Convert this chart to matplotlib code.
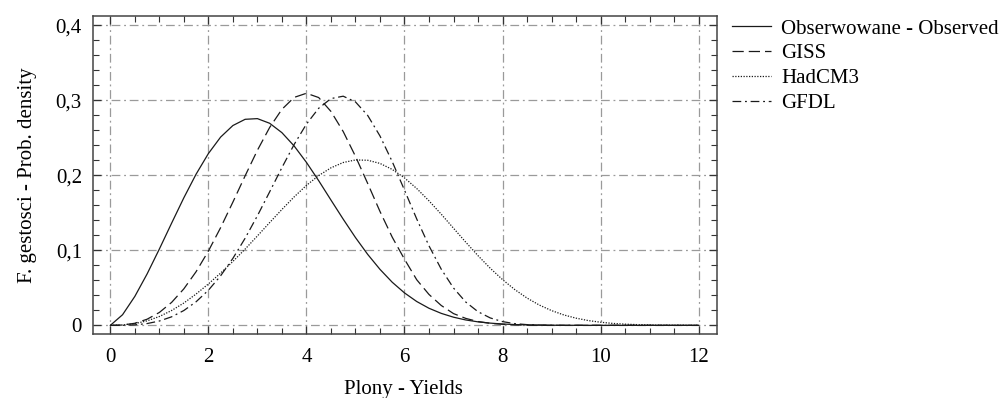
import matplotlib
matplotlib.use("Agg")
import matplotlib.pyplot as plt
from matplotlib.ticker import MultipleLocator, FuncFormatter

# Wartosci (krok 0,25)
plony = [0, 0.25, 0.5, 0.75, 1, 1.25, 1.5, 1.75, 2, 2.25, 2.5, 2.75, 3, 3.25, 3.5, 3.75,
         4, 4.25, 4.5, 4.75, 5, 5.25, 5.5, 5.75, 6, 6.25, 6.5, 6.75, 7, 7.25, 7.5, 7.75,
         8, 8.25, 8.5, 8.75, 9, 9.25, 9.5, 9.75, 10, 10.25, 10.5, 10.75, 11, 11.25, 11.5,
         11.75, 12]

obserwowane = [0, 0.0142, 0.0386, 0.0685, 0.1017, 0.1362, 0.1701, 0.2016, 0.2290, 0.2510,
               0.2664, 0.2747, 0.2756, 0.2694, 0.2569, 0.2391, 0.2173, 0.1929, 0.1671, 0.1416,
               0.1171, 0.0946, 0.0747, 0.0575, 0.0433, 0.0318, 0.0228, 0.0160, 0.0109, 0.0072,
               0.0047, 0.0030, 0.0018, 0.0011, 0.0007, 0.0004, 0.0002, 0.0001, 0.0001,
               0, 0, 0, 0, 0, 0, 0, 0, 0, 0]

giss = [0, 0.0005, 0.0028, 0.0082, 0.0172, 0.0306, 0.0487, 0.0716, 0.0990, 0.1303,
        0.1643, 0.1994, 0.2334, 0.2638, 0.2880, 0.3039, 0.3094, 0.3037, 0.2852, 0.2584,
        0.2254, 0.1891, 0.1519, 0.1176, 0.0882, 0.0608, 0.0412, 0.0265, 0.0157, 0.0093,
        0.0051, 0.0027, 0.0015, 0.0007, 0.0003, 0.0001,
        0, 0, 0, 0, 0, 0, 0, 0, 0, 0, 0, 0, 0]

hadcm3 = [0, 0.0005, 0.0024, 0.0060, 0.0118, 0.0198, 0.0298, 0.0418, 0.0552, 0.0697,
          0.0852, 0.1017, 0.1192, 0.1370, 0.1545, 0.1713, 0.1866, 0.1997, 0.2100, 0.2171,
          0.2205, 0.2201, 0.2159, 0.2079, 0.1966, 0.1824, 0.1660, 0.1482, 0.1295, 0.1109,
          0.0929, 0.0761, 0.0610, 0.0477, 0.0364, 0.0271, 0.0197, 0.0139, 0.0096, 0.0064,
          0.0042, 0.0026, 0.0016, 0.0010, 0.0006, 0.0003, 0.0002, 0.0001, 0.0001]

gfdl = [0, 0.0001, 0.0007, 0.0024, 0.0058, 0.0114, 0.0198, 0.0315, 0.0468, 0.0661,
        0.0893, 0.1162, 0.1461, 0.1780, 0.2103, 0.2412, 0.2683, 0.2894, 0.3023, 0.3055,
        0.2979, 0.2798, 0.2525, 0.2183, 0.1803, 0.1418, 0.1060, 0.0749, 0.0498, 0.0311,
        0.0182, 0.0099, 0.0050, 0.0023, 0.0010, 0.0004, 0.0001,
        0, 0, 0, 0, 0, 0, 0, 0, 0, 0, 0, 0]

etykiety = ["Obserwowane - Observed", "GISS", "HadCM3", "GFDL"]

plt.rcParams['font.family'] = ['Liberation Serif', 'DejaVu Serif']
plt.rcParams['font.size'] = 15

fig = plt.figure(figsize=(10, 3.98), dpi=100)
ax = fig.add_axes([0.093, 0.1608, 0.6237, 0.799])

kolorLinii = '#1a1a1a'
ax.plot(plony, obserwowane, color=kolorLinii, lw=0.9, linestyle='-', label=etykiety[0])
ax.plot(plony, giss, color=kolorLinii, lw=0.9, linestyle=(0, (9, 4)), label=etykiety[1])
ax.plot(plony, hadcm3, color=kolorLinii, lw=0.9, linestyle=(0, (1, 1.2)), label=etykiety[2])
ax.plot(plony, gfdl, color=kolorLinii, lw=0.9, linestyle=(0, (7, 3, 1.5, 3)), label=etykiety[3])

ax.set_xlim(-0.353, 12.368)
ax.set_ylim(-0.0115, 0.4124)

ax.xaxis.set_major_locator(MultipleLocator(2))
ax.xaxis.set_minor_locator(MultipleLocator(0.5))
ax.yaxis.set_major_locator(MultipleLocator(0.1))
ax.yaxis.set_minor_locator(MultipleLocator(0.02))
ax.yaxis.set_major_formatter(FuncFormatter(
    lambda v, _: '0' if abs(v) < 1e-9 else f'{v:.1f}'.replace('.', ',')))

ax.tick_params(which='both', direction='in', top=True, right=True, color='#333333')
ax.tick_params(which='major', length=6, width=0.9)
ax.tick_params(which='minor', length=4, width=0.8)
ax.tick_params(axis='x', which='major', pad=10)
ax.tick_params(axis='y', which='major', pad=8)

for lado in ax.spines.values():
    lado.set_color('#444444')
    lado.set_linewidth(1.1)

ax.grid(True, which='major', color='#9a9a9a', lw=0.9, linestyle=(0, (7, 3, 1.5, 3)))
ax.set_axisbelow(True)

ax.set_xlabel("Plony - Yields")
ax.set_ylabel("F. gestosci - Prob. density")
ax.xaxis.set_label_coords(0.497, -0.145)
ax.yaxis.set_label_coords(-0.09, 0.5)

fig.legend(loc='upper left', bbox_to_anchor=(0.732, 0.952), frameon=False,
           borderpad=0, borderaxespad=0, handlelength=1.85, handletextpad=0.5,
           labelspacing=0.25, fontsize=15)

fig.savefig('out.png', dpi=100)
